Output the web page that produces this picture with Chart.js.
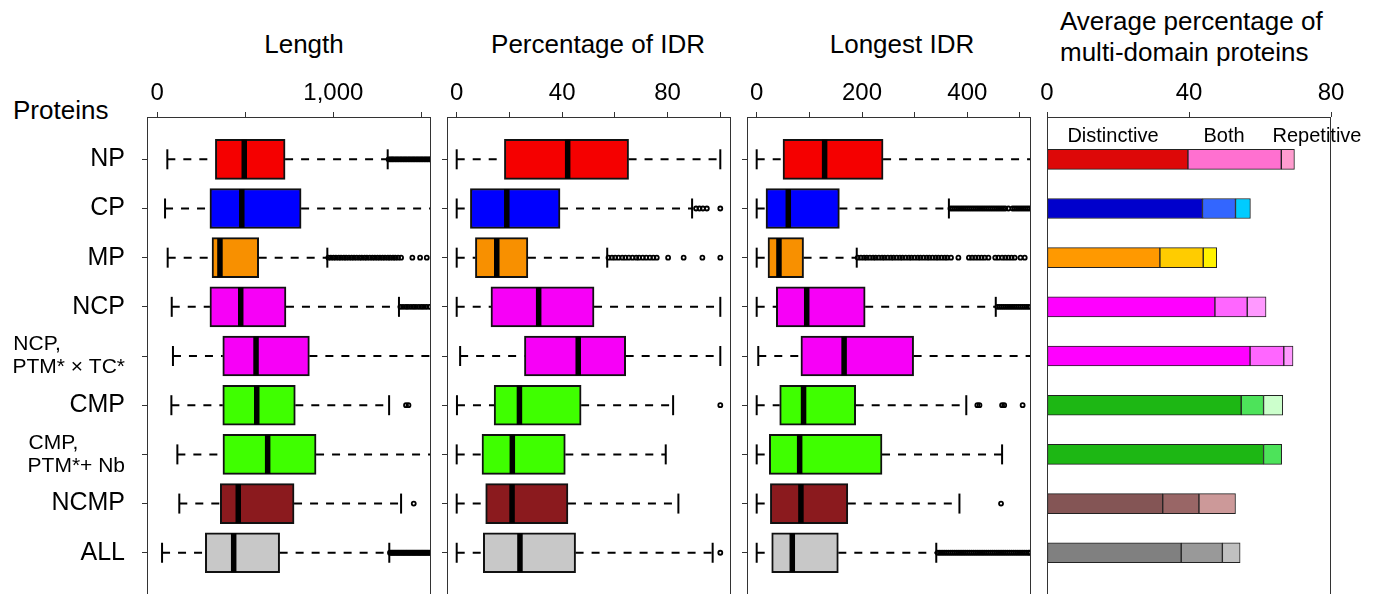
<!DOCTYPE html>
<html><head><meta charset="utf-8">
<script src="https://cdn.jsdelivr.net/npm/chart.js@4"></script>
<style>
html,body{margin:0;padding:0;background:#fff;}
body{width:1381px;height:594px;overflow:hidden;position:relative;font-family:'Liberation Sans',Arial,sans-serif;color:#000;}
canvas{position:absolute;top:0;}
.t{position:absolute;font-size:26px;line-height:30px;white-space:nowrap;text-align:center;width:400px;}
.t4{position:absolute;font-size:26px;line-height:31px;white-space:nowrap;}
.lg{position:absolute;font-size:20px;line-height:24px;white-space:nowrap;text-align:center;width:200px;}
</style></head><body>
<div class="t" style="left:104px;top:29px">Length</div>
<div class="t" style="left:398px;top:29px">Percentage of IDR</div>
<div class="t" style="left:702px;top:29px">Longest IDR</div>
<div class="t4" style="left:1060px;top:6px">Average percentage of<br>multi-domain proteins</div>
<div class="t4" style="left:13px;top:95px;line-height:30px">Proteins</div>
<canvas id="c1" width="440" height="610" style="left:0px"></canvas>
<canvas id="c2" width="300" height="610" style="left:435px"></canvas>
<canvas id="c3" width="300" height="610" style="left:735px"></canvas>
<canvas id="c4" width="346" height="610" style="left:1035px"></canvas>
<div class="lg" style="left:1013px;top:123px">Distinctive</div>
<div class="lg" style="left:1124px;top:123px">Both</div>
<div class="lg" style="left:1217px;top:123px">Repetitive</div>
<script>
// ---------- data ----------
const categories = ['NP','CP','MP','NCP','NCP, PTM*×TC*','CMP','CMP, PTM*+ Nb','NCMP','ALL'];
const rowLabels = ['NP','CP','MP','NCP',['NCP,','PTM* × TC*'],'CMP',['CMP,','PTM*+ Nb'],'NCMP','ALL'];
const boxColors = ['#F50000','#0000FF','#F89000','#F700F7','#F700F7','#3FFF00','#3FFF00','#8B1A1E','#C8C8C8'];

// Length
const lenLow  = [57, 44, 59, 82, 89, 80, 114, 125, 27];
const lenQ1   = [330, 299, 311, 299, 372, 372, 373, 358, 273];
const lenMed  = [494, 480, 356, 474, 561, 565, 627, 460, 434];
const lenQ3   = [726, 817, 576, 731, 864, 784, 902, 777, 695];
const lenHigh = [1309, 1700, 966, 1373, 1700, 1317, 1700, 1385, 1318];
const lenOutliers = [
  [1314,1322,1329,1336,1343,1351,1358,1366,1373,1381,1388,1396,1403,1411,1418,1426,1433,1441,1448,1456,1463,1471,1478,1486,1493,1501,1508,1516,1523,1531,1538,1546,1553],
  [],
  [972,986,1001,1015,1031,1044,1060,1073,1089,1104,1118,1133,1149,1162,1178,1191,1207,1222,1236,1251,1265,1280,1294,1310,1323,1339,1352,1368,1385,1449,1493,1531],
  [1381,1396,1412,1425,1441,1456,1470,1486,1501,1515,1530,1546],
  [],
  [1413,1427],
  [],
  [1457],
  [1322,1329,1336,1343,1350,1357,1364,1371,1378,1385,1392,1399,1406,1413,1420,1427,1434,1441,1448,1455,1462,1469,1476,1483,1490,1497,1504,1511,1518,1525,1532,1539,1546,1553]
];
const lenTicks = [0, 500, 1000, 1500];
const lenTickLabels = ['0', '', '1,000', ''];

// Percentage of IDR
const pctLow  = [0, 0, 0, 0, 1.3, 0.1, 0, 0, 0];
const pctQ1   = [18.1, 5.2, 7.1, 13.0, 25.7, 14.2, 9.6, 11.0, 10.1];
const pctMed  = [42.1, 19.0, 15.2, 31.1, 46.1, 23.8, 21.1, 21.0, 24.0];
const pctQ3   = [65.2, 39.2, 27.0, 52.1, 64.1, 47.2, 41.2, 42.2, 45.1];
const pctHigh = [100, 89.3, 57.1, 100, 100, 82.1, 79.3, 84.1, 97.1];
const pctOutliers = [
  [],
  [90.8, 92.1, 93.4, 94.9, 100],
  [57.6,58.9,60.1,61.4,62.8,64.0,65.3,66.7,68.1,69.2,70.6,71.9,73.3,74.6,75.9,80.2,86.1,93.2,100],
  [],
  [],
  [100],
  [],
  [],
  [100]
];
const pctTicks = [0, 20, 40, 60, 80, 100];
const pctTickLabels = ['0', '', '40', '', '80', ''];

// Longest IDR
const lngLow  = [0, 0, 0, 0, 3, 0, 0, 0, 0];
const lngQ1   = [50, 17.7, 21.5, 37.3, 84, 43.7, 24, 26, 28.5];
const lngMed  = [129, 60, 42.3, 95, 166, 89, 81.6, 84, 67.6];
const lngQ3   = [240, 157, 89, 206, 298, 188, 238, 173, 155];
const lngHigh = [560, 365, 190, 454, 560, 398, 466, 385, 341];
const lngOutliers = [
  [],
  [368,372,376,380,384,388,392,396,400,404,408,412,416,420,424,428,432,436,440,444,448,452,456,460,464,468,472,478,486,490,494,498,502,506,510,514,518],
  [192,198,204,209,215,221,226,232,238,243,249,255,260,266,272,277,283,289,294,300,306,311,317,323,328,334,340,345,351,357,362,369,383,403,409,415,421,427,433,440,453,459,466,472,478,484,490,501,509],
  [457,461,465,469,473,477,481,485,489,493,497,501,505,509,513,517],
  [],
  [419,423,466,470,505],
  [],
  [464],
  [344,348,352,356,360,364,368,372,376,380,384,388,392,396,400,404,408,412,416,420,424,428,432,436,440,444,448,452,456,460,464,468,472,476,480,484,488,492,496,500,504,508,512,516,519]
];
const lngTicks = [0, 100, 200, 300, 400, 500];
const lngTickLabels = ['0', '', '200', '', '400', ''];

// Average percentage of multi-domain proteins
const mdDistinctive = [39.7, 43.8, 31.8, 47.3, 57.2, 54.7, 61.0, 32.6, 37.8];
const mdBoth        = [26.3, 9.3, 12.2, 9.1, 9.5, 6.3, 5.1, 10.2, 11.6];
const mdRepetitive  = [3.7, 4.2, 3.8, 5.3, 2.6, 5.4, 0, 10.3, 5.0];
const distinctiveColors = ['#DD0808','#0000CC','#FF9900','#FF00FF','#FF00FF','#1DB714','#1DB714','#845555','#808080'];
const bothColors        = ['#FF70D0','#3366FF','#FFCC00','#FF66FF','#FF66FF','#4DE35A','#4DE35A','#996666','#999999'];
const repetitiveColors  = ['#FF9CCF','#00CCFF','#FFF200','#FF99FF','#FF99FF','#CCFFCC','#CCFFCC','#CC9999','#C0C0C0'];
const mdTicks = [0, 40, 80];
const mdTickLabels = ['0', '40', '80'];

// ---------- chart setup ----------
const FONT = "'Liberation Sans', Arial, sans-serif";
Chart.defaults.font.family = FONT;
Chart.defaults.color = '#000';
const rowIdx = categories.map((c, i) => i);
const ROW_MIN = -0.86, ROW_MAX = 9.164;

const mctx = document.createElement('canvas').getContext('2d');
mctx.font = "21px " + FONT;
function leftAlignLines(lines) {
  const w = lines.map(t => mctx.measureText(t).width);
  const max = Math.max(...w);
  const sp = mctx.measureText('\u00a0').width;
  return lines.map((t, k) => t + '\u00a0'.repeat(Math.round((max - w[k]) / sp)));
}

function zeroPad(s) { s.paddingLeft = 0; s.paddingRight = 0; s.paddingTop = 0; s.paddingBottom = 0; }

const framePlugin = {
  id: 'frame',
  afterDraw(chart) {
    const {ctx, chartArea: a} = chart;
    ctx.save();
    ctx.strokeStyle = '#333';
    ctx.lineWidth = 1;
    ctx.strokeRect(Math.round(a.left) + 0.5, Math.round(a.top) + 0.5,
                   Math.round(a.right - a.left) - 1, Math.round(a.bottom - a.top) + 5);
    ctx.restore();
  }
};

function xScale(min, max, tickVals, tickLbls) {
  return {
    type: 'linear', position: 'top', min, max, offset: false,
    afterBuildTicks: s => { s.ticks = tickVals.map(v => ({value: v})); },
    afterFit: s => { s.height = 117; zeroPad(s); },
    grid: {display: true, offset: false, drawOnChartArea: false, drawTicks: true, tickLength: 5, color: '#333'},
    border: {display: false},
    ticks: {autoSkip: false, maxRotation: 0, padding: 4, font: {size: 24}, color: '#000',
            callback: (v, i) => tickLbls[i]}
  };
}

function yScale(width, showLabels, showTicks) {
  return {
    type: 'linear', reverse: true, min: ROW_MIN, max: ROW_MAX, stacked: true, offset: false,
    afterBuildTicks: s => { s.ticks = rowIdx.map(v => ({value: v})); },
    afterFit: s => { s.width = width; zeroPad(s); },
    grid: {display: showTicks, offset: false, drawOnChartArea: false, drawTicks: showTicks, tickLength: 5, color: '#333'},
    border: {display: false},
    ticks: {
      display: showLabels, autoSkip: false, padding: 17, color: '#000',
      font: c => ({size: Array.isArray(rowLabels[c.index]) ? 21 : 25, lineHeight: 1.1}),
      callback: (v, i) => Array.isArray(rowLabels[i]) ? leftAlignLines(rowLabels[i]) : rowLabels[i]
    }
  };
}

function baseOptions(padRight, scales) {
  return {
    indexAxis: 'y', responsive: false, animation: false, devicePixelRatio: 1,
    layout: {autoPadding: false, padding: {left: 0, right: padRight, top: 0, bottom: 0}},
    plugins: {legend: {display: false}, tooltip: {enabled: false}},
    events: [],
    scales
  };
}

function boxplotChart(id, yWidth, padRight, xmin, xmax, tickVals, tickLbls, low, q1, med, q3, high, outl, showLabels) {
  const datasets = [
    {type: 'scatter', label: 'median', data: rowIdx.map(i => ({x: med[i], y: i})),
     pointStyle: 'line', pointRotation: 90, pointRadius: 19.5, pointHoverRadius: 19.5,
     pointBorderWidth: 5.5, pointBorderColor: '#000', order: 0},
    {type: 'scatter', label: 'caps', data: rowIdx.flatMap(i => [{x: low[i], y: i}, {x: high[i], y: i}]),
     pointStyle: 'line', pointRotation: 90, pointRadius: 10, pointHoverRadius: 10,
     pointBorderWidth: 2, pointBorderColor: '#000', order: 1},
    {type: 'scatter', label: 'outliers', data: rowIdx.flatMap(i => outl[i].map(v => ({x: v, y: i}))),
     pointStyle: 'circle', pointRadius: 2, pointHoverRadius: 2, pointBorderWidth: 1.8,
     pointBorderColor: '#000', pointBackgroundColor: 'rgba(0,0,0,0)', order: 1},
    {type: 'line', label: 'whiskers',
     data: rowIdx.flatMap(i => [{x: low[i], y: i}, {x: q1[i], y: i}, {x: null, y: i},
                                {x: q3[i], y: i}, {x: high[i], y: i}, {x: null, y: i}]),
     borderColor: '#000', borderWidth: 2, borderDash: [8, 8], pointRadius: 0, pointHoverRadius: 0,
     spanGaps: false, fill: false, tension: 0, order: 2},
    {type: 'bar', label: 'box', data: rowIdx.map(i => ({x: [q1[i], q3[i]], y: i})),
     backgroundColor: boxColors, borderColor: '#111', borderWidth: 2, borderSkipped: false,
     barThickness: 40, order: 3}
  ];
  return new Chart(document.getElementById(id), {
    type: 'bar',
    data: {datasets},
    options: baseOptions(padRight, {x: xScale(xmin, xmax, tickVals, tickLbls), y: yScale(yWidth, showLabels, true)}),
    plugins: [framePlugin]
  });
}

boxplotChart('c1', 147, 9, -58.5, 1555, lenTicks, lenTickLabels, lenLow, lenQ1, lenMed, lenQ3, lenHigh, lenOutliers, true);
boxplotChart('c2', 12, 4, -3.68, 104.06, pctTicks, pctTickLabels, pctLow, pctQ1, pctMed, pctQ3, pctHigh, pctOutliers, false);
boxplotChart('c3', 12, 4, -18.4, 520.9, lngTicks, lngTickLabels, lngLow, lngQ1, lngMed, lngQ3, lngHigh, lngOutliers, false);

const mdSeries = [
  ['Distinctive', mdDistinctive, distinctiveColors],
  ['Both', mdBoth, bothColors],
  ['Repetitive', mdRepetitive, repetitiveColors]
];
new Chart(document.getElementById('c4'), {
  type: 'bar',
  data: {
    datasets: mdSeries.map(([label, vals, colors]) => ({
      label, data: rowIdx.map(i => ({x: vals[i], y: i})),
      backgroundColor: colors, borderColor: '#222', borderWidth: 1, borderSkipped: false,
      barThickness: 20
    }))
  },
  options: baseOptions(50, {
    x: Object.assign(xScale(0, 80, mdTicks, mdTickLabels), {stacked: true}),
    y: yScale(12, false, false)
  }),
  plugins: [framePlugin]
});
</script>
</body></html>
